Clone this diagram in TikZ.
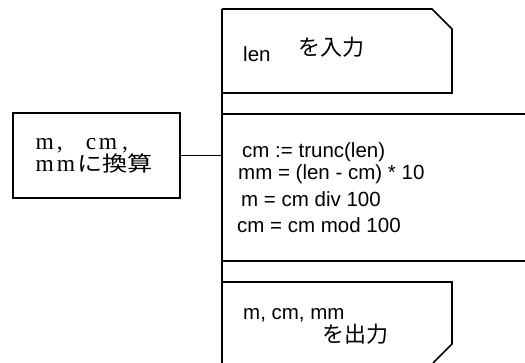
\documentclass[tikz,border=0pt]{standalone}
\usepackage{fontspec}
\newfontfamily\arial{Liberation Sans}
\newfontfamily\serifjp{Liberation Serif}
\newfontfamily\cjk{Noto Sans CJK JP}
\newfontfamily\cjkw[FakeStretch=1.2]{Noto Sans CJK JP}
\begin{document}
\begin{tikzpicture}[x=1pt,y=-1pt,
  ln/.style={line width=1.6pt},
  txt/.style={inner sep=0pt,anchor=base west,font=\arial\fontsize{20.5}{24}\selectfont},
  jtxt/.style={inner sep=0pt,anchor=base west,font=\cjk\fontsize{22}{26}\selectfont},
  stxt/.style={inner sep=0pt,anchor=base west,font=\serifjp\fontsize{23.5}{26}\selectfont}]
\useasboundingbox (0,0) rectangle (525,363);
% spine coordinates
\coordinate (top) at (222,9);
\coordinate (bot) at (222,363);
\draw[ln] (top) -- (bot);
% input box
\draw[ln] (top) -- (432,9) -- (452,29) -- (452,93) -- (222,93);
\node[txt] (inlen) at (243,62) {len};
\node[jtxt] (injp) at (298,56) {を入力};
% process block
\coordinate (p1) at (222,114);
\coordinate (p2) at (525,114);
\coordinate (p3) at (222,261);
\coordinate (p4) at (525,261);
\draw[ln] (p1) -- (p2);
\draw[ln] (p3) -- (p4);
\node[txt] (c1) at (242,158) {cm := trunc(len)};
\node[txt] (c2) at (238,180) {mm = (len - cm) * 10};
\node[txt] (c3) at (241,207) {m = cm div 100};
\node[txt] (c4) at (237,233) {cm = cm mod 100};
% output box
\draw[ln] (222,282) -- (452,282) -- (452,344) -- (433,363);
\node[txt] (outv) at (243,320) {m, cm, mm};
\node[jtxt] (outjp) at (322,343) {を出力};
% left comment box
\node[draw,ln,minimum width=167pt,minimum height=85pt,inner sep=0pt] (lbox) at (96.5,155.5) {};
\node[stxt] (l1) at (35.5,150) {m\hspace{3pt},\hspace{23pt}c\hspace{2.5pt}m\hspace{5pt},};
\node[stxt] (l2) at (35.5,172) {m\hspace{3pt}m\hspace{2pt}{\cjkw\fontsize{21}{24}\selectfont に換算}};
\coordinate (spine) at (222,0);
\draw[ln] (lbox.east) -- (lbox.east -| spine);
\end{tikzpicture}
\end{document}
